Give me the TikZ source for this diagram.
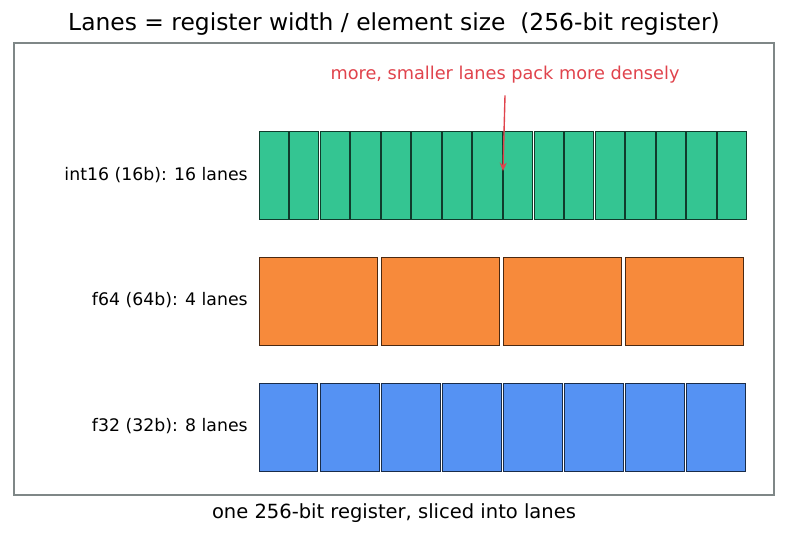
\documentclass[tikz,border=0pt]{standalone}
\usepackage{fontspec}
\setmainfont{DejaVu Sans}
\usetikzlibrary{positioning}
\usetikzlibrary{arrows.meta}

\definecolor{laneGreen}{HTML}{34C592}
\definecolor{laneOrange}{HTML}{F78A3B}
\definecolor{laneBlue}{HTML}{5592F3}
\definecolor{noteRed}{HTML}{E0434C}
\definecolor{frameGray}{HTML}{7F8787}

\tikzset{
  lane/.style={line width=0.7pt},
  rowlabel/.style={font=\fontsize{12.5}{15}\selectfont, anchor=east, inner sep=0pt},
}

\begin{document}
\begin{tikzpicture}[x=0.254mm,y=-0.254mm]
\useasboundingbox (0,0) rectangle (787,537);
\node[font=\fontsize{16.9}{19}\selectfont] (title) at (394,24) {Lanes = register width / element size \ (256-bit register)};
\draw[frameGray,line width=1pt] (14,43) rectangle (774,495);
\node[font=\fontsize{14.1}{17}\selectfont] (caption) at (394,513) {one 256-bit register, sliced into lanes};

% int16: 16 lanes
\draw[lane,fill=laneGreen,draw=laneGreen!30!black] (259,131) rectangle (288.3,219);
\draw[lane,fill=laneGreen,draw=laneGreen!30!black] (289.56,131) rectangle (318.86,219);
\draw[lane,fill=laneGreen,draw=laneGreen!30!black] (320.13,131) rectangle (349.43,219);
\draw[lane,fill=laneGreen,draw=laneGreen!30!black] (350.69,131) rectangle (379.99,219);
\draw[lane,fill=laneGreen,draw=laneGreen!30!black] (381.25,131) rectangle (410.55,219);
\draw[lane,fill=laneGreen,draw=laneGreen!30!black] (411.81,131) rectangle (441.11,219);
\draw[lane,fill=laneGreen,draw=laneGreen!30!black] (442.38,131) rectangle (471.68,219);
\draw[lane,fill=laneGreen,draw=laneGreen!30!black] (472.94,131) rectangle (502.24,219);
\draw[lane,fill=laneGreen,draw=laneGreen!30!black] (503.5,131) rectangle (532.8,219);
\draw[lane,fill=laneGreen,draw=laneGreen!30!black] (534.06,131) rectangle (563.36,219);
\draw[lane,fill=laneGreen,draw=laneGreen!30!black] (564.63,131) rectangle (593.93,219);
\draw[lane,fill=laneGreen,draw=laneGreen!30!black] (595.19,131) rectangle (624.49,219);
\draw[lane,fill=laneGreen,draw=laneGreen!30!black] (625.75,131) rectangle (655.05,219);
\draw[lane,fill=laneGreen,draw=laneGreen!30!black] (656.31,131) rectangle (685.61,219);
\draw[lane,fill=laneGreen,draw=laneGreen!30!black] (686.88,131) rectangle (716.18,219);
\draw[lane,fill=laneGreen,draw=laneGreen!30!black] (717.44,131) rectangle (746.74,219);
\node[rowlabel] (int16) at (248,175) {int16 (16b): 16 lanes};

% f64: 4 lanes
\draw[lane,fill=laneOrange,draw=laneOrange!30!black] (259,257) rectangle (377.2,345);
\draw[lane,fill=laneOrange,draw=laneOrange!30!black] (381.25,257) rectangle (499.45,345);
\draw[lane,fill=laneOrange,draw=laneOrange!30!black] (503.5,257) rectangle (621.7,345);
\draw[lane,fill=laneOrange,draw=laneOrange!30!black] (625.75,257) rectangle (743.95,345);
\node[rowlabel] (f64) at (248,300) {f64 (64b): 4 lanes};

% f32: 8 lanes
\draw[lane,fill=laneBlue,draw=laneBlue!30!black] (259,383) rectangle (317.9,471);
\draw[lane,fill=laneBlue,draw=laneBlue!30!black] (320.13,383) rectangle (379.03,471);
\draw[lane,fill=laneBlue,draw=laneBlue!30!black] (381.25,383) rectangle (440.15,471);
\draw[lane,fill=laneBlue,draw=laneBlue!30!black] (442.38,383) rectangle (501.28,471);
\draw[lane,fill=laneBlue,draw=laneBlue!30!black] (503.5,383) rectangle (562.4,471);
\draw[lane,fill=laneBlue,draw=laneBlue!30!black] (564.63,383) rectangle (623.53,471);
\draw[lane,fill=laneBlue,draw=laneBlue!30!black] (625.75,383) rectangle (684.65,471);
\draw[lane,fill=laneBlue,draw=laneBlue!30!black] (686.88,383) rectangle (745.78,471);
\node[rowlabel] (f32) at (248,426) {f32 (32b): 8 lanes};

% annotation
\node[font=\fontsize{12.8}{15}\selectfont,text=noteRed] (note) at (505,75) {more, smaller lanes pack more densely};
\coordinate (tip) at (503,171);
\draw[noteRed,line width=1pt,-{Stealth[length=6pt,width=5pt]}] (note.south)++(0,7) -- (tip);
\end{tikzpicture}
\end{document}
